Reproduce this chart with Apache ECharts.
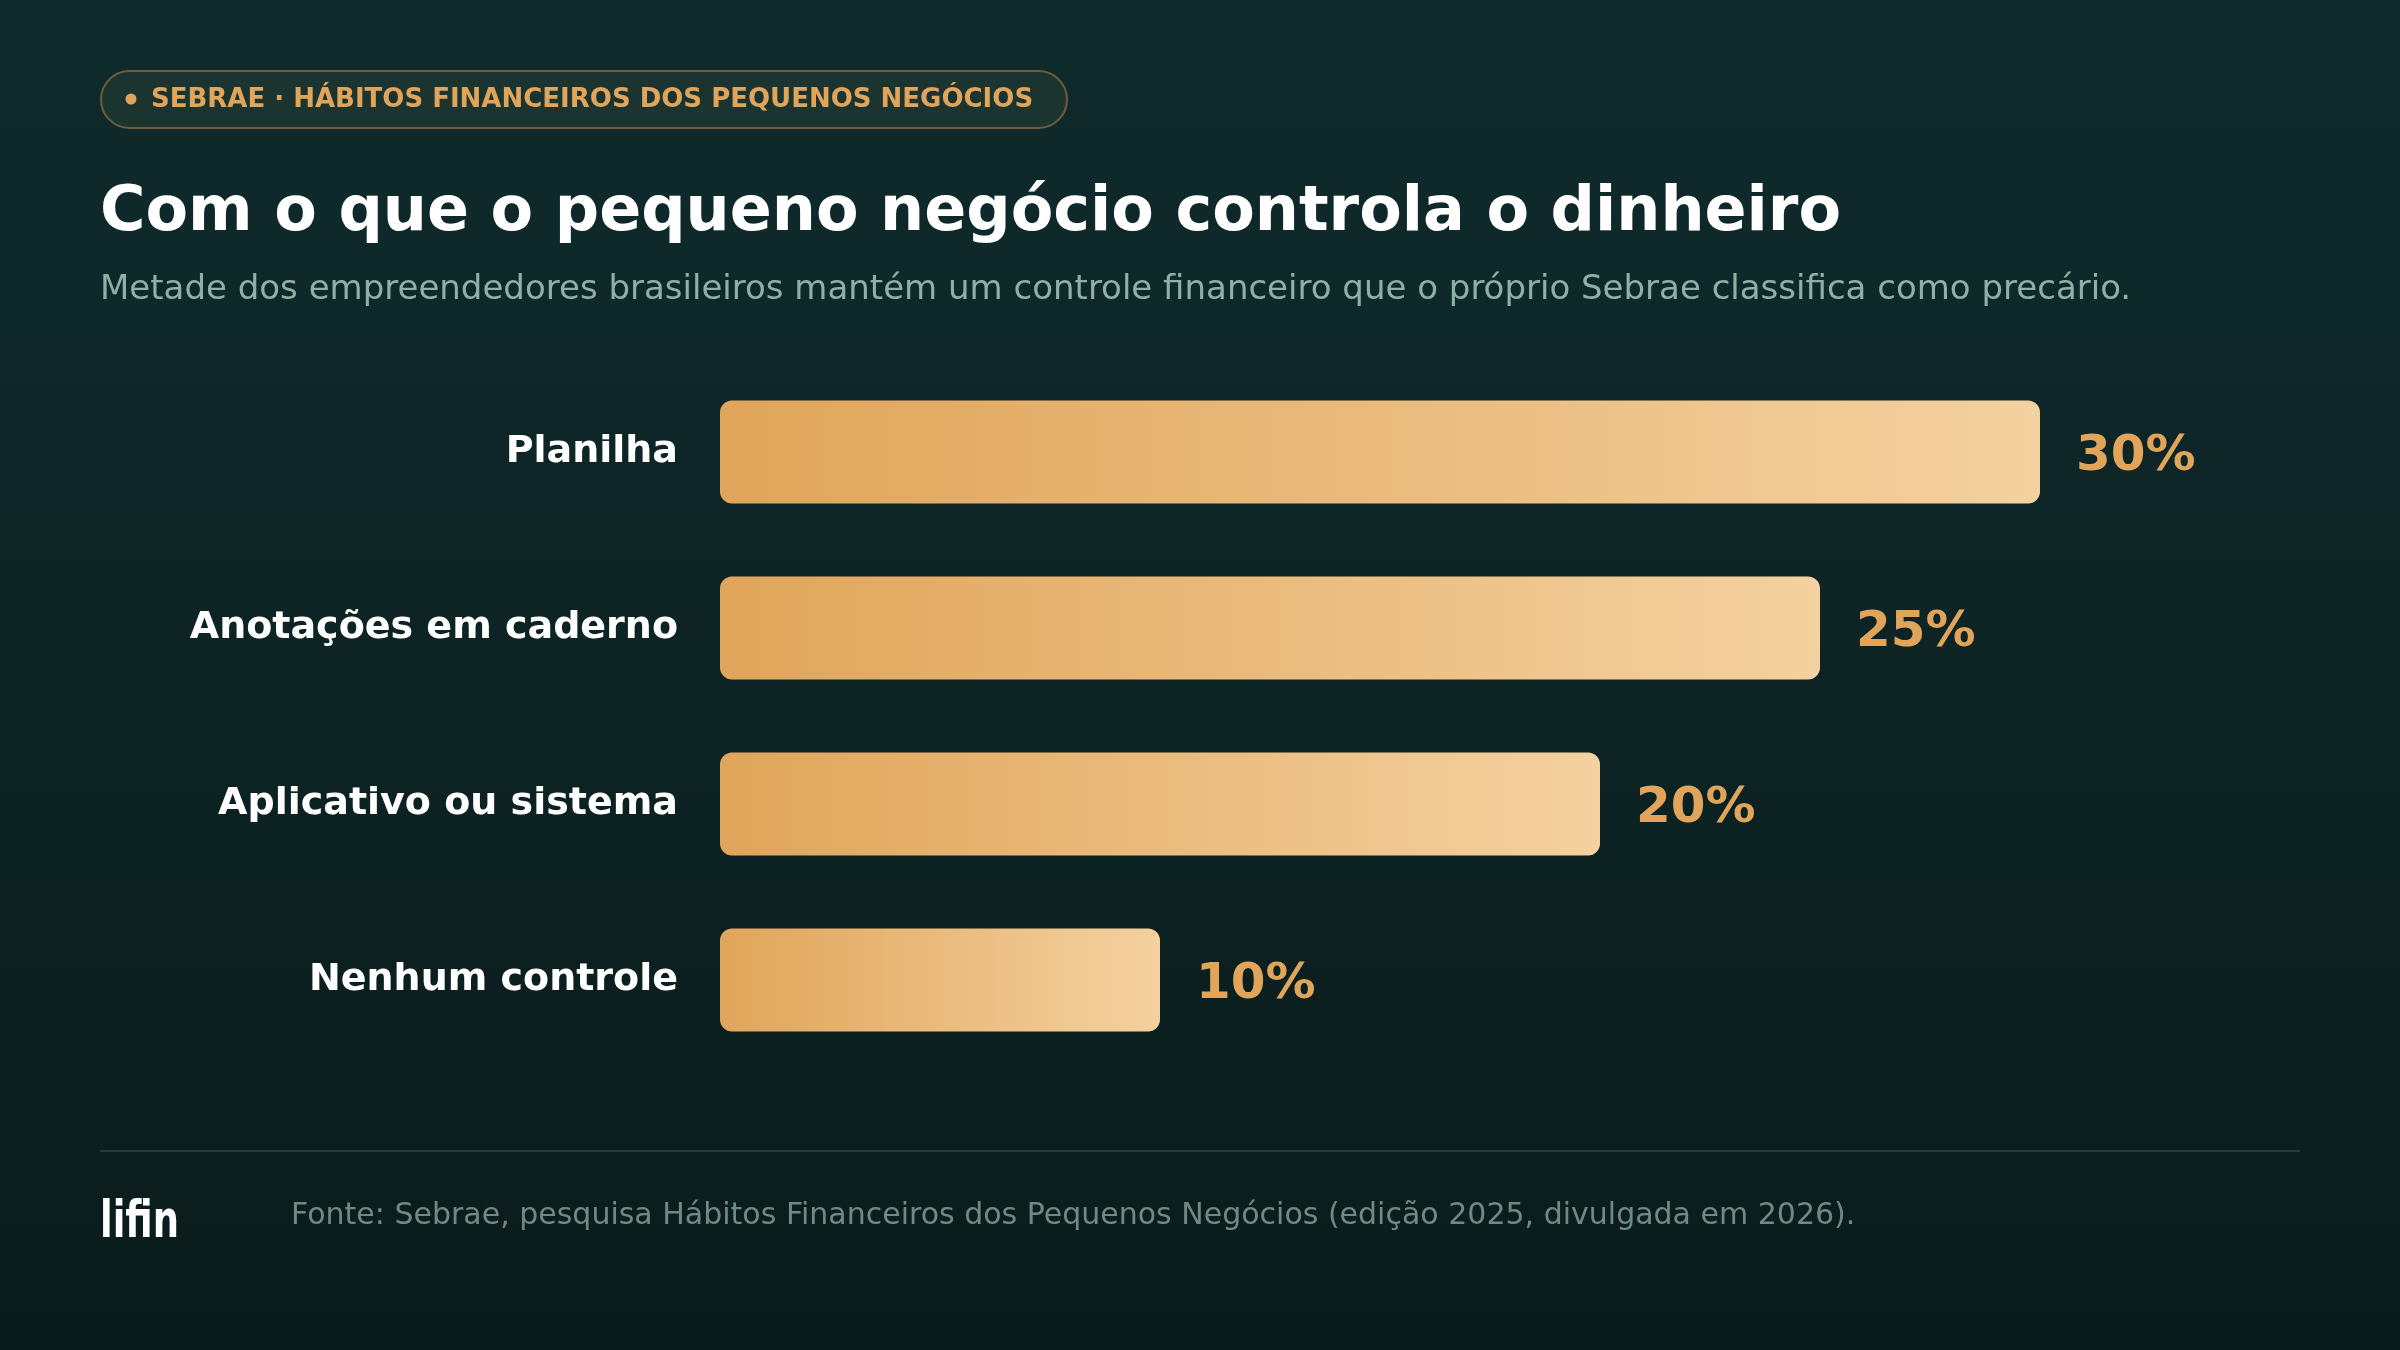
<!DOCTYPE html>
<html>
<head>
<meta charset="utf-8">
<script src="https://cdn.jsdelivr.net/npm/echarts@6/dist/echarts.min.js"></script>
<style>
  html, body { margin: 0; padding: 0; background: #0d2224; }
  #main { width: 2400px; height: 1350px; }
</style>
</head>
<body>
<div id="main"></div>
<script>
// dados da pesquisa Sebrae
const categories = ['Planilha', 'Anotações em caderno', 'Aplicativo ou sistema', 'Nenhum controle'];
const values = [30, 25, 20, 10];

const kicker = 'SEBRAE · HÁBITOS FINANCEIROS DOS PEQUENOS NEGÓCIOS';
const titleText = 'Com o que o pequeno negócio controla o dinheiro';
const subtitleText = 'Metade dos empreendedores brasileiros mantém um controle financeiro que o próprio Sebrae classifica como precário.';
const sourceText = 'Fonte: Sebrae, pesquisa Hábitos Financeiros dos Pequenos Negócios (edição 2025, divulgada em 2026).';

const FONT = 'DejaVu Sans';
const gold = '#e0a55a';

let myChart = echarts.init(document.getElementById('main'));

let option = {
    backgroundColor: new echarts.graphic.LinearGradient(0, 0, 0, 1, [
        { offset: 0, color: '#102b2d' },
        { offset: 1, color: '#0a1b1b' }
    ]),
    animation: false,
    grid: {
        left: 720,
        width: 1320,
        top: 364,
        height: 704
    },
    xAxis: {
        type: 'value',
        min: 0,
        max: 30,
        show: false
    },
    yAxis: {
        type: 'category',
        inverse: true,
        data: categories,
        axisLine: { show: false },
        axisTick: { show: false },
        axisLabel: {
            margin: 42,
            color: '#ffffff',
            fontFamily: FONT,
            fontWeight: 'bold',
            fontSize: 38,
            padding: [12, 0, 0, 0]
        }
    },
    series: [
        {
            type: 'bar',
            data: values,
            barWidth: 103,
            itemStyle: {
                borderRadius: 12,
                color: new echarts.graphic.LinearGradient(0, 0, 1, 0, [
                    { offset: 0, color: '#e0a55a' },
                    { offset: 1, color: '#f4d1a0' }
                ])
            },
            label: {
                show: true,
                position: 'right',
                distance: 36,
                offset: [0, 5],
                formatter: '{c}%',
                color: gold,
                fontFamily: FONT,
                fontWeight: 'bold',
                fontSize: 50
            }
        }
    ],
    graphic: [
        // selo do topo
        {
            type: 'rect',
            shape: { x: 101, y: 71, width: 966, height: 57, r: 28.5 },
            style: { fill: '#1c3430', stroke: '#6e5d3d', lineWidth: 2 }
        },
        {
            type: 'circle',
            shape: { cx: 131, cy: 99, r: 5.5 },
            style: { fill: gold }
        },
        {
            type: 'text',
            x: 151,
            y: 100,
            style: {
                text: kicker,
                fill: gold,
                font: 'bold 26px "' + FONT + '"',
                verticalAlign: 'middle'
            }
        },
        {
            type: 'text',
            x: 100,
            y: 214,
            style: {
                text: titleText,
                fill: '#ffffff',
                font: 'bold 62px "' + FONT + '"',
                verticalAlign: 'middle'
            }
        },
        {
            type: 'text',
            x: 100,
            y: 290,
            style: {
                text: subtitleText,
                fill: '#8fb0a6',
                font: '34px "' + FONT + '"',
                verticalAlign: 'middle'
            }
        },
        // rodapé
        {
            type: 'rect',
            shape: { x: 100, y: 1150, width: 2200, height: 2 },
            style: { fill: '#243f39' }
        },
        {
            type: 'text',
            x: 100,
            y: 1249,
            scaleX: 0.71,
            style: {
                text: 'lifin',
                fill: '#ffffff',
                font: '600 52px "' + FONT + '"',
                verticalAlign: 'bottom'
            }
        },
        {
            type: 'text',
            x: 291,
            y: 1216,
            style: {
                text: sourceText,
                fill: '#6f8a84',
                font: '30px "' + FONT + '"',
                verticalAlign: 'middle'
            }
        }
    ]
};

myChart.setOption(option);
</script>
</body>
</html>
